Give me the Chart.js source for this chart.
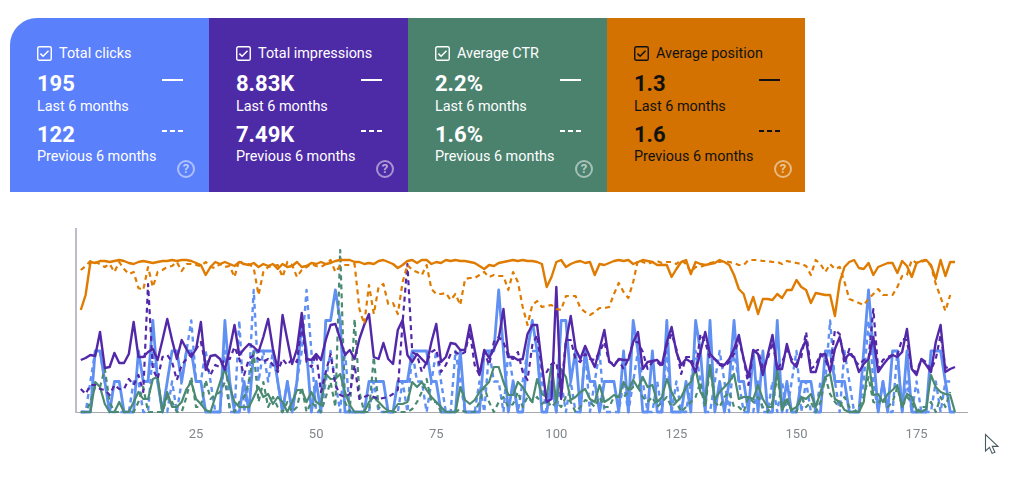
<!DOCTYPE html>
<html><head><meta charset="utf-8">
<script src="https://cdn.jsdelivr.net/npm/chart.js@4"></script>
<style>
html,body{margin:0;padding:0;background:#fff;width:1024px;height:490px;overflow:hidden;font-family:Roboto,sans-serif}
.card{position:absolute;top:18px;height:174px;color:#fff}
.card>*{position:absolute}
.title{left:49px;top:27px;font-size:14.4px;line-height:18px;white-space:nowrap}
.big{left:27px;font-size:22px;font-weight:700;line-height:26px}
.sub{left:27px;font-size:14.4px;line-height:18px;white-space:nowrap}
.solid{left:152px;top:61px;width:21px;height:2px;background:currentColor}
.dash{left:152px;top:112px;width:21px;height:2px;background:repeating-linear-gradient(90deg,currentColor 0 5px,transparent 5px 8px)}
.box{left:27px;top:28px}
.help{left:167px;top:142px;width:14px;height:14px;border:2px solid rgba(255,255,255,.5);border-radius:50%;color:rgba(255,255,255,.6);font-size:13px;font-weight:700;line-height:14px;text-align:center}
#wrap{position:absolute;left:0;top:210px;width:1024px;height:250px}
#cur{position:absolute;left:984px;top:433px}
</style></head><body>
<div id="cards"></div>
<div id="wrap"><canvas id="c" width="1024" height="250"></canvas></div>
<svg id="cur" width="16" height="24" viewBox="0 0 16 24"><path d="M1.5 1.5V18l4-3.6 2.6 6 2.8-1.2-2.6-5.8H14z" fill="#fff" stroke="#4a5a60" stroke-width="1.1"/></svg>
<script>
const metricNames=['Total clicks','Total impressions','Average CTR','Average position'];
const lastValues=['195','8.83K','2.2%','1.3'];
const prevValues=['122','7.49K','1.6%','1.6'];
const tickValues=[25,50,75,100,125,150,175];

const clicksNow=[0,0,0,2,2,1,0,1,1,0,
0,0,2,1,1,3,1,0,1,2,
2,1,2,2,1,1,0,0,0,0,
3,1,0,0,1,0,2,2,2,2,
2,1,0,1,0,1,3,2,0,1,
0,3,3,4,3,0,0,0,0,0,
1,1,1,1,0,0,1,1,1,2,
2,2,2,1,1,0,0,0,0,2,
0,0,0,0,2,2,2,4,2,0,
1,0,0,2,3,2,0,0,1,0,
3,3,1,2,0,2,1,1,0,1,
1,1,0,2,0,3,2,0,0,2,
0,0,3,0,0,0,1,0,3,2,
0,3,0,1,0,1,3,1,1,0,
2,0,2,0,0,3,0,1,0,0,
1,1,1,0,0,2,2,1,1,1,
0,0,0,2,4,2,0,1,0,2,
2,0,2,0,0,0,0,2,2,2,
1,0,0];
const clicksPrev=[0,0,1,2,2,1,0,0,0,0,
0,1,1,0,0,2,1,0,0,1,
0,1,2,3,1,1,2,1,0,0,
2,0,0,3,0,1,4,1,2,1,
2,1,0,1,0,1,2,4,2,0,
0,1,2,1,0,2,0,0,0,0,
0,1,0,0,0,0,0,1,0,2,
1,1,0,1,2,1,0,0,2,1,
0,0,0,1,0,2,1,1,0,2,
1,0,1,2,2,2,1,0,1,0,
1,0,1,0,0,2,0,1,2,0,
0,0,0,1,0,1,2,1,0,0,
1,0,2,0,1,0,0,1,2,1,
0,0,1,2,1,0,2,1,0,0,
0,1,0,0,1,0,1,0,1,2,
0,1,0,0,1,1,3,1,0,2,
1,0,0,1,3,1,0,1,0,0,
2,0,1,0,1,0,0,0,1,0,
1,1];
const imprNow=[52,54,57,56,80,44,45,59,49,49,
58,90,55,55,60,63,52,72,93,72,
53,72,63,55,63,90,42,56,57,53,
42,63,87,57,63,68,65,60,75,93,
63,43,97,72,48,63,99,53,52,58,
52,72,87,88,73,57,62,53,73,87,
98,55,53,69,53,48,82,92,57,50,
58,53,48,70,88,50,55,69,68,62,
62,87,62,37,62,54,63,73,103,55,
55,52,53,78,87,87,47,10,13,125,
13,70,96,63,53,66,55,45,63,82,
51,46,53,52,52,70,80,43,50,51,
52,47,70,85,60,47,53,50,40,60,
80,58,53,48,47,53,63,77,53,35,
62,58,37,57,77,43,43,68,50,45,
62,72,40,40,57,58,40,63,75,53,
58,55,40,48,53,75,40,47,53,57,
55,60,83,43,37,53,47,40,70,87,
40,43,45];
const imprPrev=[23,18,27,27,23,22,17,27,23,23,
33,27,37,20,128,43,33,55,57,50,
32,47,53,58,63,70,47,37,47,45,
53,53,65,53,37,53,57,53,50,53,
47,40,53,47,53,50,87,50,45,58,
20,40,58,27,17,15,18,47,13,15,
17,15,13,14,15,18,22,90,148,60,
57,40,50,60,63,40,47,58,60,57,
60,80,47,37,60,47,70,75,70,55,
53,60,40,32,67,77,43,40,48,50,
20,72,72,53,50,58,53,52,60,70,
50,48,52,43,53,70,70,60,43,50,
50,45,67,78,63,38,55,55,40,78,
70,53,53,47,45,50,58,72,53,27,
60,62,43,53,70,43,50,62,53,48,
55,80,43,47,58,52,42,82,78,48,
63,52,47,52,53,103,43,52,55,57,
57,73,72,42,40,53,50,42,53,77,
45,43];
const ctrNow=[0,0,0,30,25,8,0,0,10,0,
0,10,20,13,13,33,35,0,20,5,
5,10,23,30,13,8,2,0,15,30,
43,25,10,5,5,5,15,25,15,18,
8,15,10,0,10,22,22,10,20,10,
7,38,33,33,38,20,7,0,0,0,
10,15,10,5,1,1,8,8,10,30,
25,30,22,15,10,5,0,0,0,25,
12,8,12,20,25,30,45,45,30,17,
17,30,25,17,10,33,18,15,47,10,
43,35,12,15,20,23,13,10,27,10,
13,17,15,30,22,32,24,35,25,27,
10,15,33,20,10,15,25,30,43,20,
12,47,12,20,25,30,38,13,15,15,
13,27,13,5,5,43,2,12,2,5,
15,13,18,5,20,35,38,13,10,2,
0,0,0,10,52,17,18,10,18,22,
27,5,18,15,2,0,3,37,25,20,
18,17,0];
const ctrPrev=[0,0,10,25,25,43,10,0,0,0,
0,0,10,25,0,0,0,0,15,10,
0,0,15,35,5,5,32,13,17,20,
30,5,0,10,15,30,60,10,30,5,
15,5,0,10,0,5,25,0,10,5,
0,15,30,5,162,10,0,93,20,0,
0,55,5,0,0,0,0,0,0,3,
10,20,33,10,10,0,0,0,0,3,
0,0,0,10,25,10,0,10,15,5,
8,20,5,15,10,15,8,12,5,10,
5,15,10,0,5,12,10,5,15,5,
5,15,15,15,20,25,25,15,10,15,
5,10,15,5,10,0,5,10,15,30,
5,45,10,5,15,20,5,5,0,15,
10,15,5,0,10,35,5,15,0,0,
15,5,10,0,10,35,18,10,5,15,
5,0,5,15,35,10,8,15,5,10,
25,5,15,10,0,5,5,10,0,15,
5,20];
const posNow=[102,117,150,149,151,151,150,151,152,151,
149,148,150,151,150,149,150,151,151,152,
151,152,152,151,149,147,137,145,150,148,
150,148,146,150,148,147,149,145,148,146,
148,143,148,145,146,150,145,146,149,148,
150,148,149,151,152,152,152,150,150,148,
149,148,151,152,150,148,144,147,151,152,
149,152,152,148,150,149,152,151,152,151,
151,150,149,146,143,147,146,149,150,151,
152,151,152,151,151,150,148,125,135,150,
152,145,148,150,151,149,150,137,148,147,
149,151,152,151,152,148,150,152,151,150,
147,147,147,135,143,150,152,138,150,148,
147,148,149,152,150,147,137,123,118,102,
115,98,113,113,112,118,114,122,122,132,
125,122,109,119,118,117,117,96,130,145,
150,152,144,143,149,137,145,147,149,149,
139,151,146,135,149,151,152,147,133,152,
136,150,150];
const posPrev=[142,146,151,150,148,145,148,140,150,143,
138,140,124,122,145,125,140,142,145,146,
150,141,148,148,147,146,150,145,144,148,
145,146,135,152,147,148,144,117,140,145,
146,147,135,150,147,135,142,145,148,146,
145,148,152,140,146,147,147,148,103,88,
127,98,125,128,108,109,98,130,147,142,
140,137,147,123,118,118,119,112,118,107,
133,134,134,137,140,135,137,136,136,122,
140,130,105,87,107,111,105,106,107,103,
102,116,116,116,104,100,97,100,104,104,
105,118,129,120,114,130,152,150,148,150,
151,149,150,150,148,152,148,140,145,145,
147,149,150,150,151,150,149,147,147,152,
152,152,151,151,150,150,148,151,150,149,
148,146,137,152,148,140,148,143,145,130,
113,111,109,107,113,118,123,117,117,117,
125,136,137,152,149,150,152,146,128,115,
101,117];

const cardLefts=[10,209,408,607];
const cardWidths=[199,199,199,198];
const cardColors=['#5b80fb','#4e2ba6','#4a826e','#d37200'];
const cardInk=['#fff','#fff','#fff','#111'];
const cardsEl=document.getElementById('cards');
metricNames.forEach((name,i)=>{
  const d=document.createElement('div');d.className='card';
  d.style.cssText=`left:${cardLefts[i]}px;width:${cardWidths[i]}px;background:${cardColors[i]};color:${cardInk[i]};`+(i===0?'border-top-left-radius:27px;':'');
  d.innerHTML=`<svg class="box" width="15" height="15" viewBox="0 0 15 15"><rect x=".75" y=".75" width="13.5" height="13.5" rx="1.6" fill="none" stroke="currentColor" stroke-width="1.4"/><path d="M3.4 7.6l2.7 2.7 5.4-5.6" fill="none" stroke="currentColor" stroke-width="1.5"/></svg>
  <div class="title">${name}</div>
  <div class="big" style="top:53px">${lastValues[i]}</div><div class="sub" style="top:80px">Last 6 months</div>
  <div class="big" style="top:104px">${prevValues[i]}</div><div class="sub" style="top:130px">Previous 6 months</div>
  <div class="solid"></div><div class="dash"></div><div class="help">?</div>`;
  cardsEl.appendChild(d);
});

const pts=a=>a.map((v,i)=>({x:i+1,y:v}));
const BLUE='#6090f2',PURPLE='#5228a8',GREEN='#4a8a72',ORANGE='#df7b00';
const ds=(a,color,dashed,axis,w)=>({data:pts(a),borderColor:color,borderWidth:w,borderDash:dashed?[5,4]:[],
  pointRadius:0,tension:0,clip:false,yAxisID:axis,fill:false,borderJoinStyle:'round'});
new Chart(document.getElementById('c'),{
  type:'line',
  data:{datasets:[
    ds(posPrev,ORANGE,true,'y',2.2),ds(posNow,ORANGE,false,'y',2.4),
    ds(imprPrev,PURPLE,true,'y',2.2),ds(imprNow,PURPLE,false,'y',2.4),
    ds(ctrPrev,GREEN,true,'y',2.2),ds(ctrNow,GREEN,false,'y',2.2),
    ds(clicksPrev,BLUE,true,'k',2.4),ds(clicksNow,BLUE,false,'k',2.8)
  ]},
  options:{
    responsive:false,animation:false,events:[],devicePixelRatio:1,
    layout:{padding:{left:76,right:57,top:19,bottom:0}},
    plugins:{legend:{display:false},tooltip:{enabled:false}},
    scales:{
      x:{type:'linear',min:0,max:185.5,
        afterFit(s){s.height=48},
        afterBuildTicks(s){s.ticks=tickValues.map(v=>({value:v}))},
        grid:{display:false,drawTicks:false},
        border:{color:'#a8a8ae',width:1},
        ticks:{color:'#80868b',font:{family:'Roboto',size:13},padding:15,maxRotation:0,autoSkip:false}},
      y:{min:0,max:183,position:'left',afterFit(s){s.width=0},
        grid:{display:false,drawTicks:false},border:{color:'#bcbccb',width:2},ticks:{display:false}},
      k:{min:0,max:6,display:false}
    }
  }
});
</script>
</body></html>
